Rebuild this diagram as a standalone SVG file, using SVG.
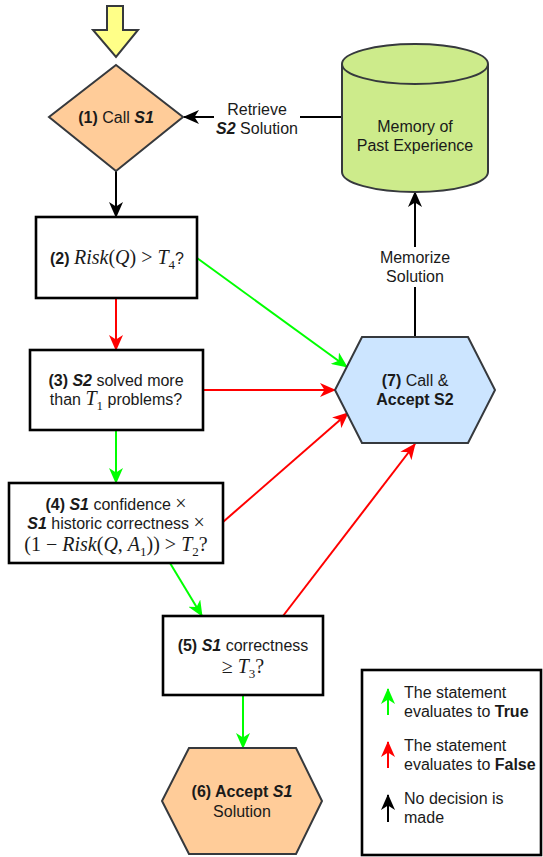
<svg xmlns="http://www.w3.org/2000/svg" width="543" height="857" viewBox="0 0 543 857">
<style>
.t{font-family:"Liberation Sans",Arial,sans-serif;font-size:16px;fill:#1a1a1a;text-anchor:middle}
.b{font-weight:bold}
.bi{font-weight:bold;font-style:italic}
.m{font-family:"Liberation Serif","Times New Roman",serif;font-size:20px}
.mi{font-style:italic}
.sub{font-size:13px}
.node{stroke:#36393d;stroke-width:2}
.box{fill:#fff;stroke:#000;stroke-width:2.6}
.c{fill:none;stroke-width:2}
.k{stroke:#000}
.r{stroke:#ff0000}
.g{stroke:#00ff00}
</style>
<defs>
<marker id="ak" viewBox="0 0 16 14" markerUnits="userSpaceOnUse" markerWidth="16" markerHeight="14" refX="15" refY="7" orient="auto"><path d="M0,0 L16,7 L0,14 L4.5,7 Z" fill="#000"/></marker>
<marker id="ar" viewBox="0 0 16 14" markerUnits="userSpaceOnUse" markerWidth="16" markerHeight="14" refX="15" refY="7" orient="auto"><path d="M0,0 L16,7 L0,14 L4.5,7 Z" fill="#ff0000"/></marker>
<marker id="ag" viewBox="0 0 16 14" markerUnits="userSpaceOnUse" markerWidth="16" markerHeight="14" refX="15" refY="7" orient="auto"><path d="M0,0 L16,7 L0,14 L4.5,7 Z" fill="#00ff00"/></marker>
</defs>
<rect width="543" height="857" fill="#fff"/>

<g id="connectors">
<line class="c k" x1="116" y1="171" x2="116" y2="217" marker-end="url(#ak)"/>
<line class="c k" x1="342" y1="117" x2="184" y2="117" marker-end="url(#ak)"/>
<line class="c k" x1="415" y1="337" x2="415" y2="192" marker-end="url(#ak)"/>
<line class="c r" x1="116" y1="298" x2="116" y2="350" marker-end="url(#ar)"/>
<line class="c g" x1="197" y1="258" x2="347" y2="367" marker-end="url(#ag)"/>
<line class="c r" x1="203" y1="390" x2="335" y2="390" marker-end="url(#ar)"/>
<line class="c g" x1="116" y1="430" x2="116" y2="483" marker-end="url(#ag)"/>
<line class="c r" x1="223" y1="522" x2="348" y2="413" marker-end="url(#ar)"/>
<line class="c g" x1="170" y1="563" x2="202" y2="616" marker-end="url(#ag)"/>
<line class="c r" x1="283" y1="616" x2="415" y2="444" marker-end="url(#ar)"/>
<line class="c g" x1="243" y1="695" x2="243" y2="748" marker-end="url(#ag)"/>
<g id="label-retrieve">
<rect x="214" y="99" width="86" height="39" fill="#fff"/>
<text class="t" x="257" y="115">Retrieve</text>
<text class="t" x="257" y="134"><tspan class="bi">S2</tspan> Solution</text>
</g>
<g id="label-memorize">
<rect x="378" y="247" width="74" height="40" fill="#fff"/>
<text class="t" x="415" y="263">Memorize</text>
<text class="t" x="415" y="282">Solution</text>
</g>
</g>

<g id="start">
<polygon class="node" points="107,6 123,6 123,30 138,30 116,57 93,30 107,30" fill="#ffff88"/>
</g>

<g id="n1">
<polygon class="node" points="116,65 183,117 116,171 49,117" fill="#ffcc99"/>
<text class="t" x="116" y="123"><tspan class="b">(1)</tspan> Call <tspan class="bi">S1</tspan></text>
</g>

<g id="n2">
<rect class="box" x="36" y="217" width="161" height="81"/>
<text class="t" x="117" y="264" xml:space="preserve"><tspan class="b">(2) </tspan><tspan class="m mi">Risk</tspan><tspan class="m">(</tspan><tspan class="m mi">Q</tspan><tspan class="m">) &gt; </tspan><tspan class="m mi">T</tspan><tspan class="m sub" dy="5">4</tspan><tspan dy="-5">?</tspan></text>
</g>

<g id="n3">
<rect class="box" x="30" y="350" width="173" height="80"/>
<text class="t" x="116" y="386"><tspan class="b">(3)</tspan> <tspan class="bi">S2</tspan> solved more</text>
<text class="t" x="116" y="405" xml:space="preserve">than <tspan class="m mi">T</tspan><tspan class="m sub" dy="5">1</tspan><tspan dy="-5"> problems?</tspan></text>
</g>

<g id="n4">
<rect class="box" x="9" y="483" width="214" height="80"/>
<text class="t" x="116" y="510"><tspan class="b">(4)</tspan> <tspan class="bi">S1</tspan> confidence <tspan class="m">×</tspan></text>
<text class="t" x="116" y="529"><tspan class="bi">S1</tspan> historic correctness <tspan class="m">×</tspan></text>
<text class="t m" x="116" y="551" xml:space="preserve">(1 − <tspan class="mi">Risk</tspan>(<tspan class="mi">Q</tspan>, <tspan class="mi">A</tspan><tspan class="sub" dy="5">1</tspan><tspan dy="-5">)) &gt; </tspan><tspan class="mi">T</tspan><tspan class="sub" dy="5">2</tspan><tspan dy="-5">?</tspan></text>
</g>

<g id="n5">
<rect class="box" x="163" y="616" width="160" height="79"/>
<text class="t" x="243" y="651"><tspan class="b">(5)</tspan> <tspan class="bi">S1</tspan> correctness</text>
<text class="t m" x="243" y="673" xml:space="preserve">≥ <tspan class="mi">T</tspan><tspan class="sub" dy="5">3</tspan><tspan dy="-5">?</tspan></text>
</g>

<g id="n6">
<polygon class="node" points="189,748 296,748 322,801 296,854 189,854 162,801" fill="#ffcc99"/>
<text class="t" x="242" y="797"><tspan class="b">(6) Accept </tspan><tspan class="bi">S1</tspan></text>
<text class="t" x="242" y="817">Solution</text>
</g>

<g id="n7">
<polygon class="node" points="362,337 468,337 495,390 468,443 362,443 335,390" fill="#cce5ff"/>
<text class="t" x="415" y="386"><tspan class="b">(7)</tspan> Call &amp;</text>
<text class="t b" x="415" y="405">Accept S2</text>
</g>

<g id="memory">
<path class="node" d="M342,64 L342,172 A73,20 0 0 0 488,172 L488,64 A73,20 0 0 0 342,64 Z" fill="#cdeb8b"/>
<path class="node" d="M342,64 A73,20 0 0 0 488,64" fill="none"/>
<text class="t" x="415" y="132">Memory of</text>
<text class="t" x="415" y="151">Past Experience</text>
</g>

<g id="legend">
<rect x="362" y="670" width="179" height="185" fill="#fff" stroke="#000" stroke-width="2.6"/>
<line class="c g" x1="388" y1="715" x2="388" y2="689" marker-end="url(#ag)"/>
<line class="c r" x1="388" y1="768" x2="388" y2="742" marker-end="url(#ar)"/>
<line class="c k" x1="388" y1="822" x2="388" y2="795" marker-end="url(#ak)"/>
<text class="t" x="404" y="698" style="text-anchor:start">The statement</text>
<text class="t" x="404" y="717" style="text-anchor:start">evaluates to <tspan class="b">True</tspan></text>
<text class="t" x="404" y="751" style="text-anchor:start">The statement</text>
<text class="t" x="404" y="770" style="text-anchor:start">evaluates to <tspan class="b">False</tspan></text>
<text class="t" x="404" y="804" style="text-anchor:start">No decision is</text>
<text class="t" x="404" y="823" style="text-anchor:start">made</text>
</g>
</svg>
